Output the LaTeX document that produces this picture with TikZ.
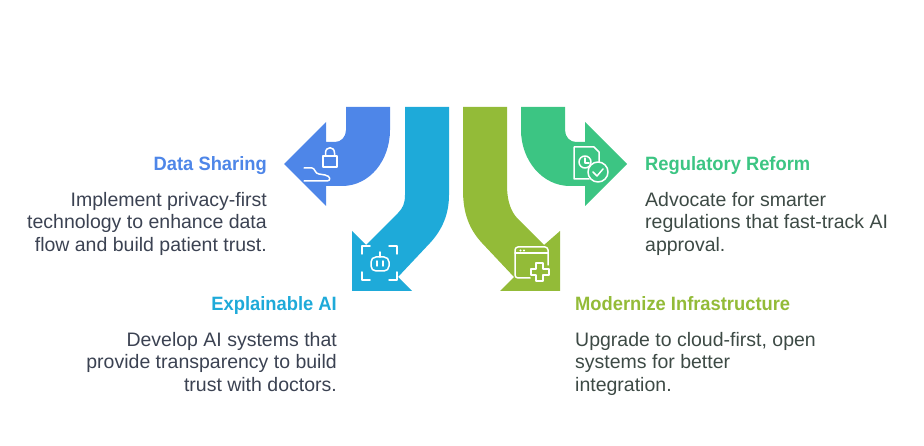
\documentclass[tikz,border=0pt]{standalone}
\usepackage{fontspec}
\setmainfont[BoldFeatures={FakeStretch=0.95}]{Liberation Sans}
\definecolor{shareblue}{HTML}{4E86E8}
\definecolor{explainblue}{HTML}{1EAAD9}
\definecolor{infraolive}{HTML}{93BB38}
\definecolor{reformgreen}{HTML}{3CC583}
\definecolor{bodyleft}{HTML}{3B4252}
\definecolor{bodyright}{HTML}{3D4A45}
\tikzset{
	heading/.style={font=\fontsize{19.3}{22}\selectfont\bfseries,inner sep=0pt},
	bodyr/.style={font=\fontsize{19.5}{22.6}\selectfont,align=right,anchor=north east,inner sep=0pt,text=bodyleft},
	bodyl/.style={font=\fontsize{19.5}{22.6}\selectfont,align=left,anchor=north west,inner sep=0pt,text=bodyright},
	glyph/.style={draw=white,line width=1.5pt,line join=round,line cap=round}
}
\begin{document}
\begin{tikzpicture}[x=1pt,y=-1pt]
	\useasboundingbox (0,0) rectangle (924,446);
	\fill [shareblue] (346,107) -- (346,130) .. controls (346,137) and (341,142) .. (335,142) -- (326,142) -- (326,122) -- (284,164) -- (326,206) -- (326,186) -- (342,186) .. controls (370,186) and (390,160) .. (390,130) -- (390,107) -- cycle;
	\fill [explainblue] (405,107) -- (405,195) .. controls (405,203) and (403,208) .. (398,213) -- (366,245) -- (352,231) -- (352,291) -- (412,291) -- (398,277) -- (430,243) .. controls (443,229) and (449,213) .. (449,195) -- (449,107) -- cycle;
	\fill [infraolive] (507,107) -- (507,185) .. controls (507,199) and (510,211) .. (518,219) -- (544,245) -- (560,231) -- (560,291) -- (500,291) -- (514,277) -- (482,243) .. controls (469,229) and (463,213) .. (463,190) -- (463,107) -- cycle;
	\fill [reformgreen] (565,107) -- (565,130) .. controls (565,137) and (570,142) .. (576,142) -- (585,142) -- (585,122) -- (627,164) -- (585,206) -- (585,186) -- (570,186) .. controls (542,186) and (521,160) .. (521,130) -- (521,107) -- cycle;
	\draw [glyph] (323,156) rectangle (337,167);
	\draw [glyph] (325.5,156) -- (325.5,153) .. controls (325.5,146) and (334.5,146) .. (334.5,153) -- (334.5,156);
	\draw [glyph] (304,168) -- (312,168) .. controls (315,168) and (315,174) .. (319,174) -- (325,175) .. controls (331,176) and (331,181) .. (327,181) -- (304,181);
	\draw [glyph] (362,254) -- (362,246) -- (370,246);
	\draw [glyph] (389,246) -- (397,246) -- (397,254);
	\draw [glyph] (397,272) -- (397,280) -- (389,280);
	\draw [glyph] (370,280) -- (362,280) -- (362,272);
	\draw [glyph,rounded corners=5pt] (371,257) rectangle (389,271);
	\draw [glyph] (380,252) -- (380,257);
	\draw [glyph] (377,261) -- (377,266);
	\draw [glyph] (383,261) -- (383,266);
	\draw [glyph,rounded corners=3pt] (530,278) -- (515,278) -- (515,247) -- (548,247) -- (548,265);
	\draw [glyph] (515,253) -- (548,253);
	\fill [white] (520.5,250.5) circle (1.2) (524,250.5) circle (1.2);
	\draw [glyph] (536,263) -- (543,263) -- (543,269) -- (549,269) -- (549,275) -- (543,275) -- (543,281) -- (536,281) -- (536,275) -- (531,275) -- (531,269) -- (536,269) -- cycle;
	\draw [glyph] (589,179) -- (574,179) -- (574,147) -- (594,147) -- (599,152) -- (599,163);
	\draw [glyph] (585,162) circle (6);
	\draw [glyph] (585,158) -- (585,163) -- (589,163);
	\draw [glyph,fill=reformgreen] (598,172) circle (10);
	\draw [glyph] (593,172) -- (597,176) -- (603,169);
	\node [heading,text=shareblue,anchor=base east] (shareTitle) at (267,171) {Data Sharing};
	\node [bodyr] (shareText) at (267,192) {Implement privacy-first\\technology to enhance data\\flow and build patient trust.};
	\node [heading,text=explainblue,anchor=base east] (explainTitle) at (337,311) {Explainable AI};
	\node [bodyr] (explainText) at (337,332) {Develop AI systems that\\provide transparency to build\\trust with doctors.};
	\node [heading,text=infraolive,anchor=base west] (infraTitle) at (575,311) {Modernize Infrastructure};
	\node [bodyl] (infraText) at (575,332) {Upgrade to cloud-first, open\\systems for better\\integration.};
	\node [heading,text=reformgreen,anchor=base west] (reformTitle) at (645,171) {Regulatory Reform};
	\node [bodyl] (reformText) at (645,192) {Advocate for smarter\\regulations that fast-track AI\\approval.};
\end{tikzpicture}
\end{document}
